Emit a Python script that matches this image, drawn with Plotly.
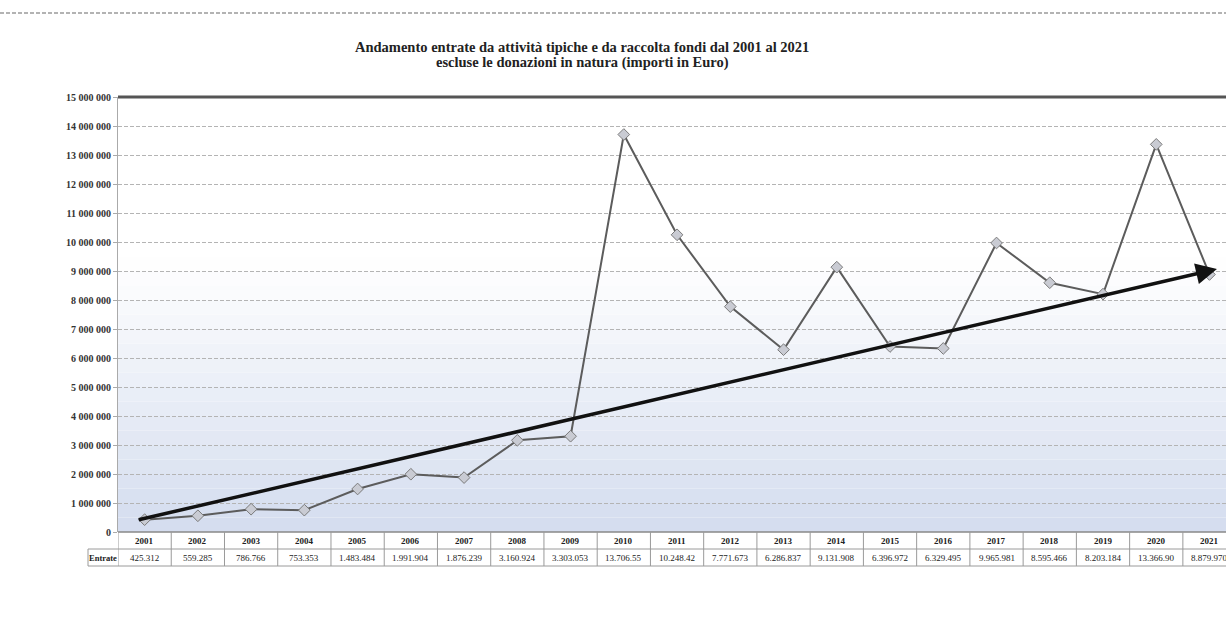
import plotly.graph_objects as go

# ---------------- data ----------------
YEARS = [2001, 2002, 2003, 2004, 2005, 2006, 2007, 2008, 2009, 2010, 2011,
         2012, 2013, 2014, 2015, 2016, 2017, 2018, 2019, 2020, 2021]
ENTRATE = [425312, 559285, 786766, 753353, 1483484, 1991904, 1876239, 3160924,
           3303053, 13706550, 10248420, 7771673, 6286837, 9131908, 6396972,
           6329495, 9965981, 8595466, 8203184, 13366900, 8879970]
ENTRATE_LABELS = ["425.312", "559.285", "786.766", "753.353", "1.483.484",
                  "1.991.904", "1.876.239", "3.160.924", "3.303.053", "13.706.55",
                  "10.248.42", "7.771.673", "6.286.837", "9.131.908", "6.396.972",
                  "6.329.495", "9.965.981", "8.595.466", "8.203.184", "13.366.90",
                  "8.879.970"]
Y_TICKS = [0, 1e6, 2e6, 3e6, 4e6, 5e6, 6e6, 7e6, 8e6, 9e6, 10e6, 11e6, 12e6,
           13e6, 14e6, 15e6]
Y_TICK_LABELS = ["0", "1 000 000", "2 000 000", "3 000 000", "4 000 000",
                 "5 000 000", "6 000 000", "7 000 000", "8 000 000", "9 000 000",
                 "10 000 000", "11 000 000", "12 000 000", "13 000 000",
                 "14 000 000", "15 000 000"]
TREND_START = (2000.86, 410000)
TREND_END = (2021.14, 9070000)
ROW_LABEL = "Entrate"
TITLE_LINES = ["Andamento entrate da attività tipiche e da raccolta fondi dal 2001 al 2021",
               "escluse le donazioni in natura (importi in Euro)"]

SERIF = "Liberation Serif"
X_MIN, X_MAX = YEARS[0] - 0.5, YEARS[-1] + 0.31
Y_MAX = Y_TICKS[-1]

fig = go.Figure()

fig.add_trace(go.Scatter(
    x=YEARS, y=ENTRATE, mode="lines+markers",
    line=dict(color="#5c5c5c", width=2),
    marker=dict(symbol="diamond", size=9, color="#c9cbd3",
                line=dict(color="#7a7a7a", width=1)),
    showlegend=False, hoverinfo="skip"))

shapes = []
# gradient background (white at top -> light blue at bottom)
N = 30
for i in range(N):
    f0 = i / N
    f1 = (i + 1) / N
    t = max(0.0, 1 - (f0 + f1) / 2 / 0.62)
    r = int(255 - (255 - 212) * t)
    g = int(255 - (255 - 221) * t)
    b = int(255 - (255 - 239) * t)
    shapes.append(dict(type="rect", xref="paper", yref="paper", x0=0, x1=1,
                       y0=f0, y1=f1, fillcolor=f"rgb({r},{g},{b})",
                       line=dict(width=0), layer="below"))

# top border line
shapes.append(dict(type="line", xref="paper", yref="paper", x0=0, x1=1,
                   y0=1, y1=1, line=dict(color="#555555", width=3)))

# table lines
row1 = -17 / 435
row2 = -34 / 435
lab_x0 = -30 / 1108
tbl_col = "#9a9a9a"
shapes.append(dict(type="line", xref="paper", yref="paper", x0=0, x1=1,
                   y0=0, y1=0, line=dict(color="#888888", width=1.5)))
shapes.append(dict(type="line", xref="paper", yref="paper", x0=lab_x0, x1=1,
                   y0=row1, y1=row1, line=dict(color=tbl_col, width=1)))
shapes.append(dict(type="line", xref="paper", yref="paper", x0=lab_x0, x1=1,
                   y0=row2, y1=row2, line=dict(color=tbl_col, width=1)))
shapes.append(dict(type="line", xref="paper", yref="paper", x0=lab_x0, x1=lab_x0,
                   y0=row1, y1=row2, line=dict(color=tbl_col, width=1)))
for yr in YEARS:
    shapes.append(dict(type="line", xref="x", yref="paper", x0=yr - 0.5, x1=yr - 0.5,
                       y0=0, y1=row2, line=dict(color=tbl_col, width=1)))

# page header line
shapes.append(dict(type="line", xref="paper", yref="paper",
                   x0=-118 / 1108, x1=1, y0=1 + 84 / 435, y1=1 + 84 / 435,
                   line=dict(color="#9a9a9a", width=1.5, dash="4px,2px")))

annotations = []
# title lines
for line, py in zip(TITLE_LINES, [47, 63]):
    annotations.append(dict(x=(582 - 118) / 1108, y=(532 - py) / 435,
                            xref="paper", yref="paper",
                            xanchor="center", yanchor="middle",
                            text="<b>" + line + "</b>", showarrow=False,
                            font=dict(family=SERIF, size=14.5, color="#222222")))

for yr, lab in zip(YEARS, ENTRATE_LABELS):
    annotations.append(dict(x=yr, y=(0 + row1) / 2, xref="x", yref="paper",
                            xanchor="center", yanchor="middle",
                            text=f"<b>{yr}</b>", showarrow=False,
                            font=dict(family=SERIF, size=9, color="#222222")))
    annotations.append(dict(x=yr, y=(row1 + row2) / 2, xref="x", yref="paper",
                            xanchor="center", yanchor="middle",
                            text=lab, showarrow=False,
                            font=dict(family=SERIF, size=9, color="#222222")))
annotations.append(dict(x=lab_x0 / 2, y=(row1 + row2) / 2, xref="paper", yref="paper",
                        xanchor="center", yanchor="middle",
                        text="<b>" + ROW_LABEL + "</b>", showarrow=False,
                        font=dict(family=SERIF, size=8.5, color="#222222")))

# trend arrow
annotations.append(dict(x=TREND_END[0], y=TREND_END[1], xref="x", yref="y",
                        ax=TREND_START[0], ay=TREND_START[1], axref="x", ayref="y",
                        text="", showarrow=True, arrowhead=2, arrowsize=1.2,
                        arrowwidth=3.5, arrowcolor="#111111", standoff=0,
                        startstandoff=0))

fig.update_layout(
    width=1226, height=640,
    margin=dict(l=118, r=0, t=97, b=108),
    paper_bgcolor="#ffffff", plot_bgcolor="rgba(0,0,0,0)",
    xaxis=dict(range=[X_MIN, X_MAX], showticklabels=False, showgrid=False,
               zeroline=False, showline=False, ticks=""),
    yaxis=dict(range=[0, Y_MAX], tickvals=Y_TICKS,
               ticktext=["<b>" + t + "</b>" for t in Y_TICK_LABELS],
               showgrid=True, gridcolor="#b4b4b4", griddash="4px,2px", gridwidth=1,
               zeroline=False, showline=True, linecolor="#aaaaaa", linewidth=1,
               ticks="outside", ticklen=4, tickcolor="#aaaaaa",
               tickfont=dict(family=SERIF, size=10, color="#333333")),
    shapes=shapes, annotations=annotations,
)

fig.write_html("out.html")
